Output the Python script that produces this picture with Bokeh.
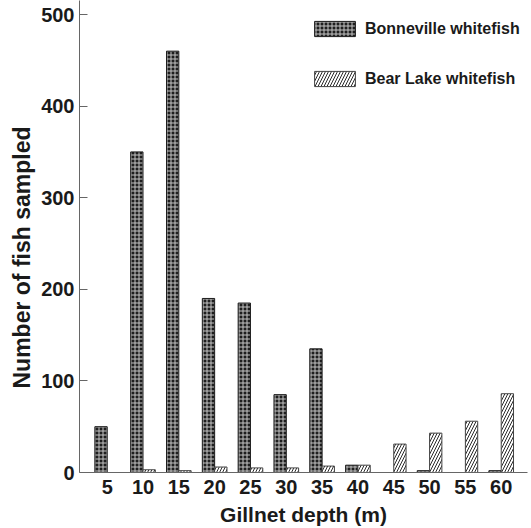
import numpy as np
from bokeh.plotting import figure
from bokeh.models import Range1d, FixedTicker, Legend, LegendItem, ColumnDataSource, Title
from bokeh.embed import file_html
from bokeh.resources import INLINE

depths = ["5", "10", "15", "20", "25", "30", "35", "40", "45", "50", "55", "60"]
bonneville = [50, 350, 460, 190, 185, 85, 135, 8, 0, 2, 0, 2]
bear_lake = [0, 3, 2, 6, 5, 5, 7, 8, 31, 43, 56, 86]
y_ticks = [0, 100, 200, 300, 400, 500]
series_names = ["Bonneville whitefish", "Bear Lake whitefish"]
x_title = "Gillnet depth (m)"
y_title = "Number of fish sampled"

FONT = "Liberation Sans"
TXT = "#1a1a1a"

pos = np.arange(1, len(depths) + 1)
off = 0.172
bw = 0.344

p = figure(width=531, height=528, output_backend="svg", toolbar_location=None,
           x_range=Range1d(0.227, 12.734), y_range=Range1d(0, 515.3),
           min_border_left=79, min_border_right=4, min_border_top=0, min_border_bottom=40)
p.outline_line_color = None
p.grid.visible = False
p.background_fill_color = "white"

b_vals = np.array(bonneville, dtype=float)
l_vals = np.array(bear_lake, dtype=float)
mb = b_vals > 0
ml = l_vals > 0
src_b = ColumnDataSource(dict(x=pos[mb] - off, top=b_vals[mb]))
src_l = ColumnDataSource(dict(x=pos[ml] + off, top=l_vals[ml]))

rb = p.vbar(x="x", top="top", width=bw, bottom=0, source=src_b,
            fill_color="#1e1e1e", line_color="#1e1e1e", line_width=1,
            hatch_pattern="cross", hatch_color="#c4c4c4", hatch_scale=4, hatch_weight=1)
rl = p.vbar(x="x", top="top", width=bw, bottom=0, source=src_l,
            fill_color="white", line_color="#444444", line_width=1,
            hatch_pattern="right_diagonal_line", hatch_color="#2a2a2a", hatch_scale=6, hatch_weight=1)

# axes
xa = p.xaxis[0]
xa.ticker = FixedTicker(ticks=list(pos))
xa.major_label_overrides = {int(k): v for k, v in zip(pos, depths)}
xa.major_tick_in = 0
xa.major_tick_out = 0
xa.minor_tick_in = 0
xa.minor_tick_out = 0
xa.axis_line_color = "#666666"
xa.major_label_text_font = FONT
xa.major_label_text_font_style = "bold"
xa.major_label_text_font_size = "20px"
xa.major_label_text_color = TXT
xa.major_label_standoff = 7
xa.axis_label = x_title
xa.axis_label_text_font = FONT
xa.axis_label_text_font_style = "bold"
xa.axis_label_text_font_size = "21px"
xa.axis_label_text_color = TXT
xa.axis_label_standoff = 6

ya = p.yaxis[0]
ya.ticker = FixedTicker(ticks=y_ticks)
ya.major_tick_in = 8
ya.major_tick_out = 0
ya.minor_tick_in = 0
ya.minor_tick_out = 0
ya.axis_line_color = "#666666"
ya.major_tick_line_color = "#666666"
ya.major_label_text_font = FONT
ya.major_label_text_font_style = "bold"
ya.major_label_text_font_size = "20px"
ya.major_label_text_color = TXT
ya.major_label_standoff = 5

yt = Title(text=y_title, align="left", offset=84, standoff=8,
           text_font=FONT, text_font_style="bold", text_font_size="23px",
           text_color=TXT)
p.add_layout(yt, "left")

legend = Legend(items=[LegendItem(label=series_names[0], renderers=[rb]),
                       LegendItem(label=series_names[1], renderers=[rl])],
                location=(230, 384), orientation="vertical",
                glyph_width=51, glyph_height=19, label_height=19, label_standoff=5,
                spacing=31, padding=0, margin=0,
                border_line_color=None, background_fill_alpha=0,
                label_text_font=FONT, label_text_font_style="bold",
                label_text_font_size="16px", label_text_color=TXT)
p.add_layout(legend)

open("out.html", "w").write(file_html(p, INLINE))
